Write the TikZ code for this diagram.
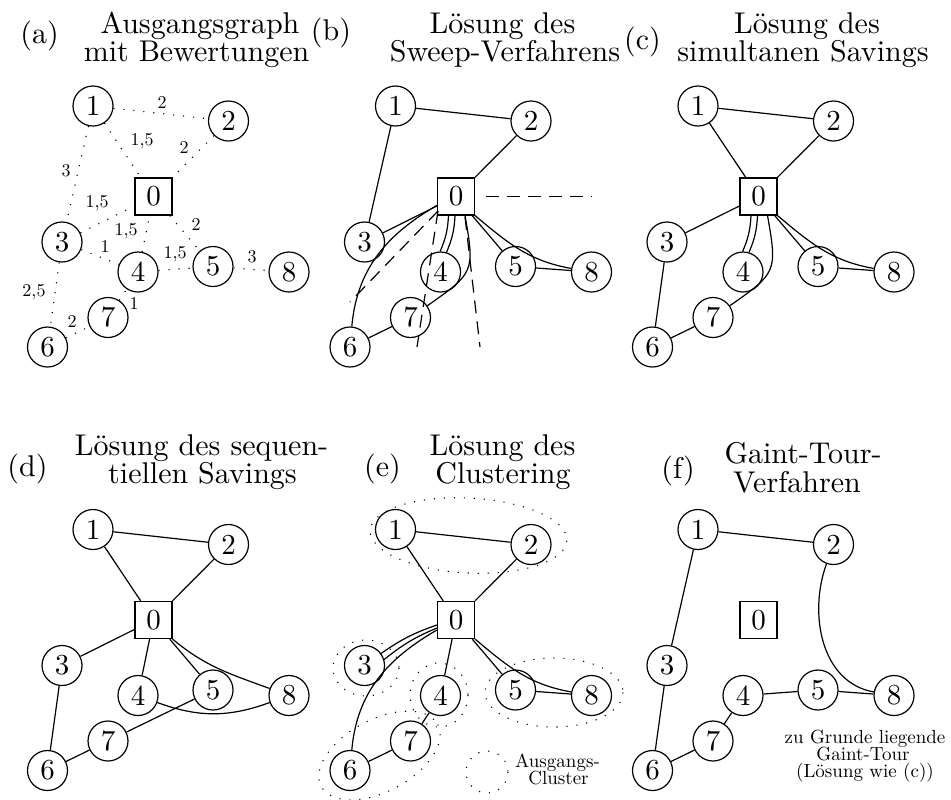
\documentclass[tikz,border=0pt]{standalone}
\usepackage{fontspec}
\setmainfont{lmroman10-regular}[Extension=.otf]

% Places the depot (0) and the customers 1..8 of one instance,
% #1 = name prefix, (#2,#3) = position of the depot
\newcommand\placegraph[3]{%
  \begin{scope}[shift={(#2,#3)}]
    \node[depot]  (#1-0) at (0,0)          {0};
    \node[vertex] (#1-1) at (-60.5,-90.5)  {1};
    \node[vertex] (#1-2) at (75,-75.5)     {2};
    \node[vertex] (#1-3) at (-91.5,45.5)   {3};
    \node[vertex] (#1-4) at (-15.5,75.5)   {4};
    \node[vertex] (#1-5) at (59.5,70)      {5};
    \node[vertex] (#1-8) at (135.5,75.5)   {8};
    \node[vertex] (#1-7) at (-45.5,121)    {7};
    \node[vertex] (#1-6) at (-106,150.5)   {6};
  \end{scope}}

\begin{document}
\begin{tikzpicture}[x=0.5pt,y=-0.5pt,
  vertex/.style={circle, draw, line width=0.6pt, minimum size=20pt, inner sep=0pt,
                 font=\fontsize{14.5}{17}\selectfont},
  depot/.style={rectangle, draw, line width=0.6pt, minimum size=18.5pt, inner sep=0pt,
                font=\fontsize{14.5}{17}\selectfont},
  link/.style={line width=0.6pt},
  weak/.style={line width=0.55pt, dash pattern=on 0.55pt off 4.45pt},
  wlabel/.style={font=\fontsize{9}{10}\selectfont, inner sep=0pt},
  sweepray/.style={line width=0.6pt, dash pattern=on 6.5pt off 4pt},
  cluster/.style={line width=0.55pt, dash pattern=on 0.55pt off 4.45pt},
  ttl/.style={font=\fontsize{15}{17}\selectfont, anchor=base, inner sep=0pt},
  tag/.style={font=\fontsize{15}{17}\selectfont, inner sep=0pt},
  note/.style={font=\fontsize{9.5}{10}\selectfont, anchor=base, inner sep=0pt}]

\fill[white] (0,0) rectangle (951,799);
\useasboundingbox (0,0) rectangle (951,799);

% ---------------- headings ----------------
\node[tag] (tga) at (39.5,36) {(a)};
\node[ttl] (ta1) at (200,33) {Ausgangsgraph};
\node[ttl] (ta2) at (196.5,61) {mit Bewertungen};

\node[tag] (tgb) at (331,33) {(b)};
\node[ttl] (tb1) at (502.5,33) {Lösung des};
\node[ttl] (tb2) at (505,61) {Sweep-Verfahrens};

\node[tag] (tgc) at (642.5,42) {(c)};
\node[ttl] (tc1) at (807,33) {Lösung des};
\node[ttl] (tc2) at (803,61) {simultanen Savings};

\node[tag] (tgd) at (27.5,469) {(d)};
\node[ttl] (td1) at (201.5,455) {Lösung des sequen-};
\node[ttl] (td2) at (202.5,483) {tiellen Savings};

\node[tag] (tge) at (382.5,469) {(e)};
\node[ttl] (te1) at (502.5,455) {Lösung des};
\node[ttl] (te2) at (503,483) {Clustering};

\node[tag] (tgf) at (678,471) {(f)};
\node[ttl] (tf1) at (803,463) {Gaint-Tour-};
\node[ttl] (tf2) at (797,492) {Verfahren};

% ---------------- (a) graph with weights ----------------
\placegraph{a}{153.5}{196.5}
\foreach \u/\v in {1/2, 1/0, 2/0, 1/3, 3/0, 4/0, 3/4, 0/5, 4/5, 5/8, 3/6, 6/7, 7/4}
  \draw[weak] (a-\u) -- (a-\v);
\begin{scope}[shift={(153.5,196.5)}]
  \node[wlabel] (w12) at (8.5,-94.5)   {2};
  \node[wlabel] (w10) at (-11.5,-55.5) {1,5};
  \node[wlabel] (w20) at (30.5,-49.5)  {2};
  \node[wlabel] (w13) at (-87.5,-25.5) {3};
  \node[wlabel] (w30) at (-56.5,6.5)   {1,5};
  \node[wlabel] (w40) at (-27.5,34.5)  {1,5};
  \node[wlabel] (w34) at (-48.5,49.5)  {1};
  \node[wlabel] (w05) at (42.5,27.5)   {2};
  \node[wlabel] (w45) at (21.5,57.5)   {1,5};
  \node[wlabel] (w58) at (98.5,60.5)   {3};
  \node[wlabel] (w36) at (-119.5,95.5) {2,5};
  \node[wlabel] (w67) at (-81.5,124.5) {2};
  \node[wlabel] (w74) at (-19.5,106.5) {1};
\end{scope}

% ---------------- (b) sweep ----------------
\placegraph{b}{456}{196.5}
\draw[link] (b-1) -- (b-2);
\draw[link] (b-2) -- (b-0);
\draw[link] (b-1) -- (b-3);
\draw[link] (b-3) -- (b-0);
\draw[link] (b-0.205) to[out=210,in=85] (b-6);
\draw[link] (b-6) -- (b-7);
\draw[link] ([xshift=-3.75pt]b-0.south) to[bend left=10] (b-4.91);
\draw[link] ([xshift=-0.5pt]b-0.south) to[bend left=10] (b-4.73);
\draw[link] ([xshift=4.5pt]b-0.south) to[out=-80,in=35,looseness=1.5] (b-7);
\draw[link] (b-0) -- (b-5);
\draw[link] (b-0.south east) to[out=-40,in=170] (b-8);
\draw[link] (b-5) -- (b-8);
\begin{scope}[shift={(456,196.5)}]
  \coordinate (bh0) at (30,0);
  \coordinate (bh1) at (136,0);
  \coordinate (bs)  at (-18,14.5);
  \coordinate (br2) at (-106,105.5);
  \coordinate (br3) at (-39,150.5);
  \coordinate (bq)  at (9,20.5);
  \coordinate (br4) at (24,150.5);
\end{scope}
\draw[sweepray] (bh0) -- (bh1);
\draw[sweepray] (bs) -- (br2);
\draw[sweepray] (bs) -- (br3);
\draw[sweepray] (bq) -- (br4);

% ---------------- (c) parallel savings ----------------
\placegraph{c}{758.5}{196.5}
\draw[link] (c-1) -- (c-2);
\draw[link] (c-1) -- (c-0);
\draw[link] (c-2) -- (c-0);
\draw[link] (c-3) -- (c-0);
\draw[link] (c-3) -- (c-6);
\draw[link] (c-6) -- (c-7);
\draw[link] ([xshift=-3.75pt]c-0.south) to[bend left=10] (c-4.91);
\draw[link] ([xshift=-0.5pt]c-0.south) to[bend left=10] (c-4.73);
\draw[link] ([xshift=4.5pt]c-0.south) to[out=-80,in=35,looseness=1.5] (c-7);
\draw[link] (c-0) -- (c-5);
\draw[link] (c-0.south east) to[out=-40,in=170] (c-8);
\draw[link] (c-5) -- (c-8);

% ---------------- (d) sequential savings ----------------
\placegraph{d}{153.5}{620}
\draw[link] (d-1) -- (d-2);
\draw[link] (d-1) -- (d-0);
\draw[link] (d-2) -- (d-0);
\draw[link] (d-3) -- (d-0);
\draw[link] (d-3) -- (d-6);
\draw[link] (d-6) -- (d-7);
\draw[link] (d-0) -- (d-4);
\draw[link] (d-0) -- (d-5);
\draw[link] (d-0.south east) to[out=-40,in=160] (d-8);
\draw[link] (d-7) -- (d-5);
\draw[link] (d-4) to[bend right=20] (d-8);

% ---------------- (e) clustering ----------------
\placegraph{e}{456}{620}
\draw[link] (e-1) -- (e-2);
\draw[link] (e-1) -- (e-0);
\draw[link] (e-2) -- (e-0);
\draw[link] ([yshift=-2.5pt]e-0.west) to[bend right=8] (e-3.36);
\draw[link] ([yshift=-4pt]e-0.west) to[bend right=8] (e-3.17);
\draw[link] ([yshift=-5pt]e-0.west) to[out=210,in=85] (e-6);
\draw[link] (e-0) -- (e-4);
\draw[link] (e-4) -- (e-7);
\draw[link] (e-6) -- (e-7);
\draw[link] (e-0) -- (e-5);
\draw[link] (e-0.south east) to[out=-40,in=170] (e-8);
\draw[link] (e-5) -- (e-8);
\begin{scope}[shift={(456,620)}]
  \draw[cluster] (12.5,-84.5) ellipse [x radius=98.5, y radius=37.5, rotate=-3];
  \draw[cluster] (-90,48) ellipse [x radius=33, y radius=28];
  \draw[cluster] (-17,75) ellipse [x radius=29, y radius=32];
  \draw[cluster] (98,72.5) ellipse [x radius=69, y radius=34.5];
  \draw[cluster] (-76.5,135.5) ellipse [x radius=66, y radius=36, rotate=28];
  \draw[cluster] (31,152) circle [radius=21];
\end{scope}
\node[note] (lg1) at (557.5,767) {Ausgangs-};
\node[note] (lg2) at (558.5,784) {Cluster};

% ---------------- (f) giant tour ----------------
\placegraph{f}{758.5}{620}
\draw[link] (f-1) -- (f-2);
\draw[link] (f-1) -- (f-3);
\draw[link] (f-3) -- (f-6);
\draw[link] (f-6) -- (f-7);
\draw[link] (f-7) -- (f-4);
\draw[link] (f-4) -- (f-5);
\draw[link] (f-5) -- (f-8);
\draw[link] (f-2) to[out=-110,in=170] (f-8);
\node[note] (gt1) at (865,743) {zu Grunde liegende};
\node[note] (gt2) at (863,760) {Gaint-Tour};
\node[note] (gt3) at (865,777) {(Lösung wie (c))};

\end{tikzpicture}
\end{document}
